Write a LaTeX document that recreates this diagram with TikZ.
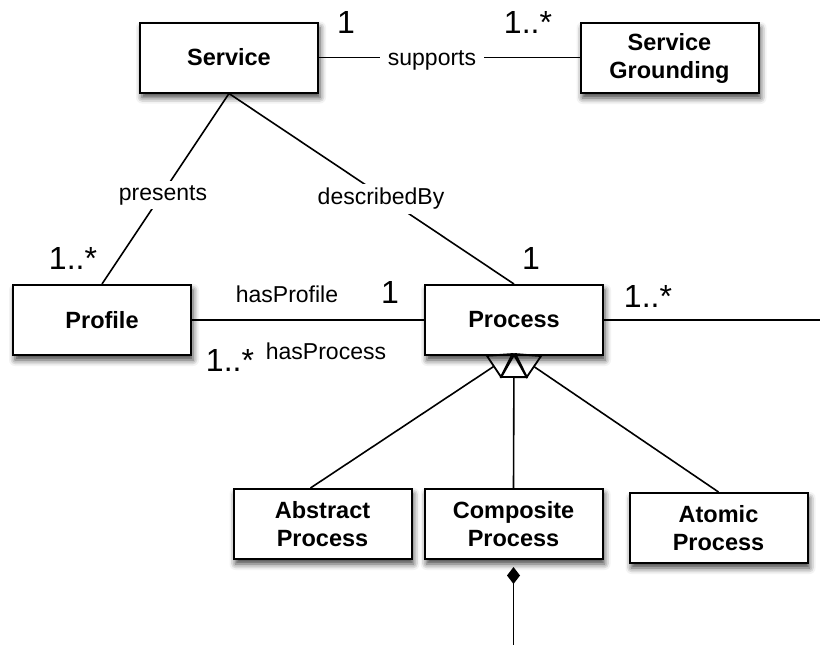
\documentclass[tikz,border=0pt]{standalone}
\usepackage{fontspec}
\setmainfont{Liberation Sans}
\usetikzlibrary{arrows.meta,shadows.blur}
\begin{document}
\begin{tikzpicture}[x=1pt,y=-1pt,
 umlbox/.style={draw=black, line width=2pt, fill=white, minimum width=178pt, minimum height=70pt, align=center, inner sep=0pt, font=\fontsize{23.5}{28}\selectfont\bfseries, blur shadow={shadow xshift=2pt, shadow yshift=-5pt, shadow blur radius=6pt, shadow opacity=75}},
 assoc/.style={line width=1.6pt},
 lbl/.style={font=\fontsize{23}{28}\selectfont, fill=white, inner xsep=8pt, inner ysep=4pt},
 mult/.style={font=\fontsize{32}{36}\selectfont, inner sep=0pt},
 gen/.style={line width=1.6pt, -{Triangle[open, length=25pt, width=28pt, line width=1.8pt]}},
 comp/.style={line width=1.6pt, -{Diamond[length=17pt, width=13pt]}},
]
\useasboundingbox (0,0) rectangle (820,645);
% boxes
\node[umlbox] (service) at (229,57.5) {Service};
\node[umlbox] (grounding) at (669.5,58) {Service\\Grounding};
\node[umlbox] (profile) at (102,320) {Profile};
\node[umlbox] (process) at (514,320) {Process};
\node[umlbox] (abstract) at (322.5,524) {Abstract\\Process};
\node[umlbox] (composite) at (513.5,524) {Composite\\Process};
\node[umlbox] (atomic) at (718.5,528) {Atomic\\Process};
\coordinate (pend) at (820,320);
\coordinate (cend) at (513.5,645);
% associations
\draw[assoc] (service.east) -- (service.east -| grounding.west);
\draw[assoc] (service.south) -- (profile.north);
\draw[assoc] (service.south) -- (process.north);
\draw[assoc] (profile.east) -- (process.west);
\draw[assoc] (process.east) -- (pend);
% generalizations
\draw[gen] ([xshift=-12pt]abstract.north) -- ([yshift=3pt]process.south);
\draw[gen] (composite.north) -- ([yshift=3pt]process.south);
\draw[gen] (atomic.north) -- ([yshift=3pt]process.south);
% composition
\draw[comp, shorten >=7pt] (cend) -- (composite.south);
% labels
\node[lbl] at (432,60) {supports};
\node[lbl] at (163,195) {presents};
\node[lbl] at (381,199) {describedBy};
\node[lbl] at (287,294) {hasProfile};
\node[lbl] at (326,351) {hasProcess};
% multiplicities
\node[mult] at (346,22) {1};
\node[mult] at (528,22) {1..*};
\node[mult] at (73,258) {1..*};
\node[mult] at (531,258) {1};
\node[mult] at (390,292) {1};
\node[mult] at (230,360) {1..*};
\node[mult] at (648,296) {1..*};
\end{tikzpicture}
\end{document}
